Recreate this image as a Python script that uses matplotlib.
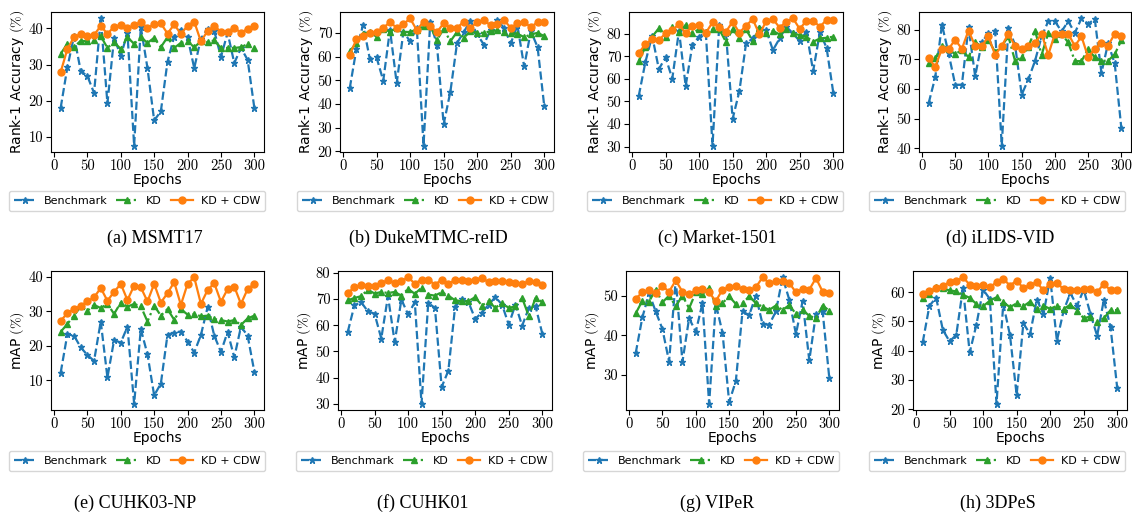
import numpy as np
import matplotlib
matplotlib.use("Agg")
import matplotlib.pyplot as plt
from matplotlib.ticker import MultipleLocator

plt.rcParams["mathtext.fontset"] = "cm"

epochs = list(range(10, 301, 10))

# (a) MSMT17 - Rank-1
a_bench = [18.0, 29.2, 37.9, 28.2, 26.8, 22.1, 42.8, 19.2, 37.4, 32.4, 38.8, 7.5, 40.4, 29.0, 14.5,
           17.0, 30.8, 37.7, 39.7, 37.6, 29.0, 37.2, 39.9, 39.3, 32.1, 38.8, 30.4, 34.6, 31.3, 18.0]
a_kd = [33.0, 35.7, 34.8, 36.6, 36.4, 36.9, 37.9, 34.6, 36.2, 34.3, 37.6, 35.7, 37.6, 36.0, 37.4,
        34.8, 37.6, 34.6, 36.0, 36.4, 34.8, 36.4, 36.2, 36.7, 34.6, 34.6, 34.6, 34.8, 35.7, 34.6]
a_cdw = [27.9, 34.3, 37.6, 38.4, 38.0, 38.2, 40.7, 38.5, 40.5, 40.9, 40.0, 40.9, 41.8, 40.2, 41.1,
         41.4, 38.6, 41.1, 38.5, 40.7, 41.9, 36.4, 39.3, 40.7, 39.1, 39.1, 40.2, 38.8, 39.9, 40.8]

# (b) DukeMTMC-reID - Rank-1
b_bench = [46.6, 63.2, 73.3, 58.9, 59.6, 49.8, 71.4, 48.7, 70.4, 66.4, 72.1, 22.4, 74.5, 65.0, 31.4,
           45.1, 65.7, 70.4, 75.0, 69.3, 65.0, 71.4, 75.3, 72.1, 65.5, 73.1, 55.8, 70.7, 64.0, 39.0]
b_kd = [62.2, 65.7, 69.6, 70.4, 68.3, 71.7, 70.4, 72.1, 70.3, 70.4, 71.4, 72.8, 72.8, 66.9, 71.7,
        66.4, 70.4, 67.9, 70.7, 70.0, 70.0, 70.7, 71.0, 70.4, 70.0, 69.6, 68.2, 69.3, 70.0, 68.6]
b_cdw = [60.8, 67.2, 68.6, 70.0, 70.4, 72.1, 74.5, 72.1, 73.6, 76.1, 71.1, 74.7, 72.8, 70.3, 74.0,
         72.1, 72.1, 74.7, 72.1, 74.5, 75.4, 73.1, 73.8, 75.4, 72.1, 74.0, 74.5, 72.4, 74.5, 74.5]

# (c) Market-1501 - Rank-1
c_bench = [52.4, 67.5, 79.1, 64.3, 69.5, 60.1, 81.2, 56.9, 75.0, 78.7, 80.6, 30.4, 83.9, 80.1, 42.3,
           54.5, 75.7, 77.9, 82.4, 81.6, 72.7, 77.9, 83.1, 80.1, 76.7, 80.9, 63.4, 80.6, 73.8, 53.9]
c_kd = [67.8, 74.2, 78.7, 82.4, 78.4, 82.8, 80.9, 83.9, 80.1, 82.1, 80.6, 81.9, 81.9, 76.4, 81.9,
        78.2, 81.9, 76.7, 82.4, 80.1, 81.2, 79.7, 81.9, 80.1, 79.4, 78.7, 76.4, 77.9, 78.2, 78.7]
c_cdw = [71.5, 75.3, 77.6, 77.2, 80.1, 81.6, 84.2, 80.1, 83.6, 83.9, 80.4, 85.0, 83.1, 80.9, 85.3,
         80.4, 83.6, 86.4, 79.7, 85.6, 86.5, 82.7, 85.3, 86.8, 82.1, 85.8, 85.8, 83.1, 86.1, 86.1]

# (d) iLIDS-VID - Rank-1
d_bench = [55.2, 64.0, 81.7, 72.0, 61.4, 61.4, 80.8, 64.3, 75.7, 78.9, 79.7, 40.9, 80.6, 74.9, 58.1,
           63.2, 69.4, 77.7, 82.8, 82.8, 79.4, 82.8, 78.9, 83.8, 81.9, 83.6, 65.4, 75.4, 68.6, 46.7]
d_kd = [68.6, 70.3, 74.6, 73.5, 71.7, 73.2, 70.7, 75.7, 74.3, 76.6, 72.4, 74.5, 77.7, 69.5, 70.7,
        74.3, 79.7, 71.5, 78.9, 76.8, 78.5, 75.7, 69.4, 69.4, 73.4, 70.7, 69.5, 69.5, 71.7, 76.4]
d_cdw = [70.3, 67.5, 73.5, 73.5, 76.6, 73.5, 79.7, 74.5, 74.5, 77.7, 71.5, 74.5, 78.6, 74.5, 73.5,
         74.5, 75.4, 78.6, 71.5, 78.6, 78.6, 78.6, 74.5, 77.7, 70.7, 73.5, 75.4, 74.6, 78.6, 77.7]

# (e) CUHK03-NP - mAP
e_bench = [12.2, 23.3, 22.9, 19.5, 17.3, 15.6, 27.0, 10.8, 21.6, 20.9, 25.5, 3.2, 24.8, 17.5, 5.6,
           9.0, 23.2, 23.8, 24.1, 21.2, 18.0, 23.1, 31.1, 22.9, 18.2, 24.0, 16.6, 25.5, 22.9, 12.5]
e_kd = [24.0, 26.3, 28.7, 31.4, 30.1, 31.8, 30.9, 32.1, 29.2, 32.5, 31.3, 32.1, 31.4, 27.0, 31.6,
        28.7, 30.6, 27.5, 30.6, 29.0, 29.2, 28.5, 28.7, 27.7, 27.4, 27.0, 27.4, 26.0, 27.9, 28.7]
e_cdw = [27.2, 29.4, 30.6, 31.6, 32.8, 34.0, 36.7, 33.0, 35.6, 37.9, 33.2, 37.4, 36.9, 32.8, 37.9,
         32.5, 35.2, 38.4, 31.8, 37.9, 39.8, 32.1, 36.1, 38.1, 32.7, 36.4, 37.1, 32.1, 36.4, 37.9]

# (f) CUHK01 - mAP
f_bench = [57.4, 67.6, 68.8, 65.3, 64.4, 54.9, 71.1, 53.5, 69.8, 64.1, 68.8, 30.0, 68.5, 66.6, 36.4,
           42.6, 66.9, 70.1, 68.8, 62.4, 64.8, 67.9, 70.7, 67.9, 60.2, 67.9, 59.8, 66.6, 67.2, 56.8]
f_kd = [69.5, 70.4, 71.1, 73.6, 72.1, 72.7, 72.3, 72.7, 71.3, 73.9, 72.0, 74.3, 71.7, 71.3, 72.6,
        71.3, 69.5, 69.2, 69.2, 70.7, 67.5, 69.2, 66.6, 68.5, 66.6, 67.2, 70.4, 63.4, 70.4, 68.8]
f_cdw = [72.3, 74.5, 75.2, 74.9, 74.9, 76.2, 77.2, 76.2, 76.8, 78.3, 75.9, 77.4, 77.4, 75.5, 77.4,
         75.9, 77.1, 77.1, 76.8, 77.4, 78.1, 76.4, 76.8, 76.8, 76.4, 76.2, 75.8, 76.8, 76.6, 75.3]

# (g) VIPeR - mAP
g_bench = [35.5, 44.5, 50.6, 46.0, 41.6, 33.4, 54.0, 33.3, 44.3, 40.9, 48.1, 22.8, 47.9, 40.7, 23.2,
           28.5, 46.0, 45.1, 50.0, 42.8, 42.7, 46.0, 54.6, 49.0, 40.3, 48.6, 33.7, 45.4, 46.0, 29.2]
g_kd = [45.5, 48.7, 48.5, 51.5, 48.3, 50.0, 47.3, 50.0, 46.8, 50.8, 50.4, 51.9, 47.5, 48.1, 49.8,
        47.9, 48.1, 49.8, 48.1, 47.2, 46.4, 47.5, 46.4, 47.6, 45.4, 46.4, 44.9, 44.3, 47.5, 46.2]
g_cdw = [49.2, 50.8, 51.3, 50.6, 52.4, 51.0, 53.8, 51.0, 50.4, 51.3, 51.7, 50.8, 48.6, 51.5, 52.1,
         52.3, 51.7, 51.4, 52.1, 54.6, 53.1, 53.6, 53.6, 53.2, 50.8, 51.7, 51.5, 54.4, 51.0, 50.6]

# (h) 3DPeS - mAP
h_bench = [42.9, 55.4, 58.1, 47.1, 43.2, 45.4, 61.4, 39.4, 48.9, 60.9, 57.7, 21.9, 56.0, 45.4, 24.9,
           49.4, 45.7, 57.4, 52.6, 64.9, 43.4, 53.7, 59.7, 55.4, 60.9, 52.6, 45.1, 57.4, 48.0, 27.1]
h_kd = [58.1, 59.4, 61.7, 61.4, 60.6, 60.3, 59.1, 58.1, 56.0, 55.2, 57.1, 58.3, 56.6, 54.9, 56.2,
        55.2, 56.8, 54.3, 55.4, 54.3, 55.4, 54.3, 55.7, 53.7, 51.1, 51.7, 49.9, 51.1, 53.9, 53.9]
h_cdw = [59.4, 60.3, 61.5, 62.3, 63.4, 63.8, 65.1, 62.6, 62.3, 62.6, 61.7, 63.4, 64.6, 62.3, 64.0,
         61.4, 62.5, 63.4, 60.6, 62.9, 63.1, 61.1, 60.6, 60.9, 61.1, 61.1, 60.0, 62.9, 60.6, 60.9]

captions = ["(a) MSMT17", "(b) DukeMTMC-reID", "(c) Market-1501", "(d) iLIDS-VID",
            "(e) CUHK03-NP", "(f) CUHK01", "(g) VIPeR", "(h) 3DPeS"]
panels = [(a_bench, a_kd, a_cdw), (b_bench, b_kd, b_cdw), (c_bench, c_kd, c_cdw), (d_bench, d_kd, d_cdw),
          (e_bench, e_kd, e_cdw), (f_bench, f_kd, f_cdw), (g_bench, g_kd, g_cdw), (h_bench, h_kd, h_cdw)]
ylabels = [r"Rank-1 Accuracy $(\%)$"] * 4 + [r"mAP $(\%)$"] * 4

W, H = 1132, 517
# axes boxes in pixels: left, top, right, bottom
boxes = [(51, 12, 264, 152), (340, 12, 554, 152), (629, 12, 843, 152), (919, 12, 1131, 152),
         (51, 271, 264, 410), (338, 271, 552, 410), (626, 271, 839, 410), (913, 271, 1127, 410)]
legend_pos = [(137, 201), (425, 201), (715, 201), (997, 201),
              (137, 461), (424, 461), (711, 461), (997, 461)]
caption_pos = [(155, 238), (428, 238), (717, 238), (1000, 238),
               (135, 503), (423, 503), (717, 503), (998, 503)]

fig = plt.figure(figsize=(W / 100, H / 100), dpi=100)

for i in range(8):
    l, t, r, b = boxes[i]
    ax = fig.add_axes([l / W, 1 - b / H, (r - l) / W, (b - t) / H])
    bench, kd, cdw = panels[i]
    ax.plot(epochs, bench, color="tab:blue", linestyle="--", marker="*", markersize=5, lw=1.6, label="Benchmark")
    ax.plot(epochs, kd, color="tab:green", linestyle="-.", marker="^", markersize=5, lw=1.6, label="KD")
    ax.plot(epochs, cdw, color="tab:orange", linestyle="-", marker="o", markersize=5, lw=1.6, label="KD + CDW")
    ax.xaxis.set_major_locator(MultipleLocator(50))
    ax.yaxis.set_major_locator(MultipleLocator(10))
    for lab in ax.get_xticklabels() + ax.get_yticklabels():
        lab.set_fontfamily("cmr10")
        lab.set_fontsize(10.5)
    ax.tick_params(pad=2)
    ax.set_xlabel("Epochs", fontsize=10, labelpad=0)
    ax.set_ylabel(ylabels[i], fontsize=10, labelpad=2)
    lx, ly = legend_pos[i]
    ax.legend(loc="center", bbox_to_anchor=(lx / W, 1 - ly / H), bbox_transform=fig.transFigure,
              ncol=3, fontsize=8, handlelength=2.0, columnspacing=0.8, handletextpad=0.7,
              borderpad=0.45, borderaxespad=0)
    cx, cy = caption_pos[i]
    fig.text(cx / W, 1 - cy / H, captions[i], ha="center", va="center",
             fontsize=13, family="Liberation Serif")

fig.savefig("out.png", dpi=100)
